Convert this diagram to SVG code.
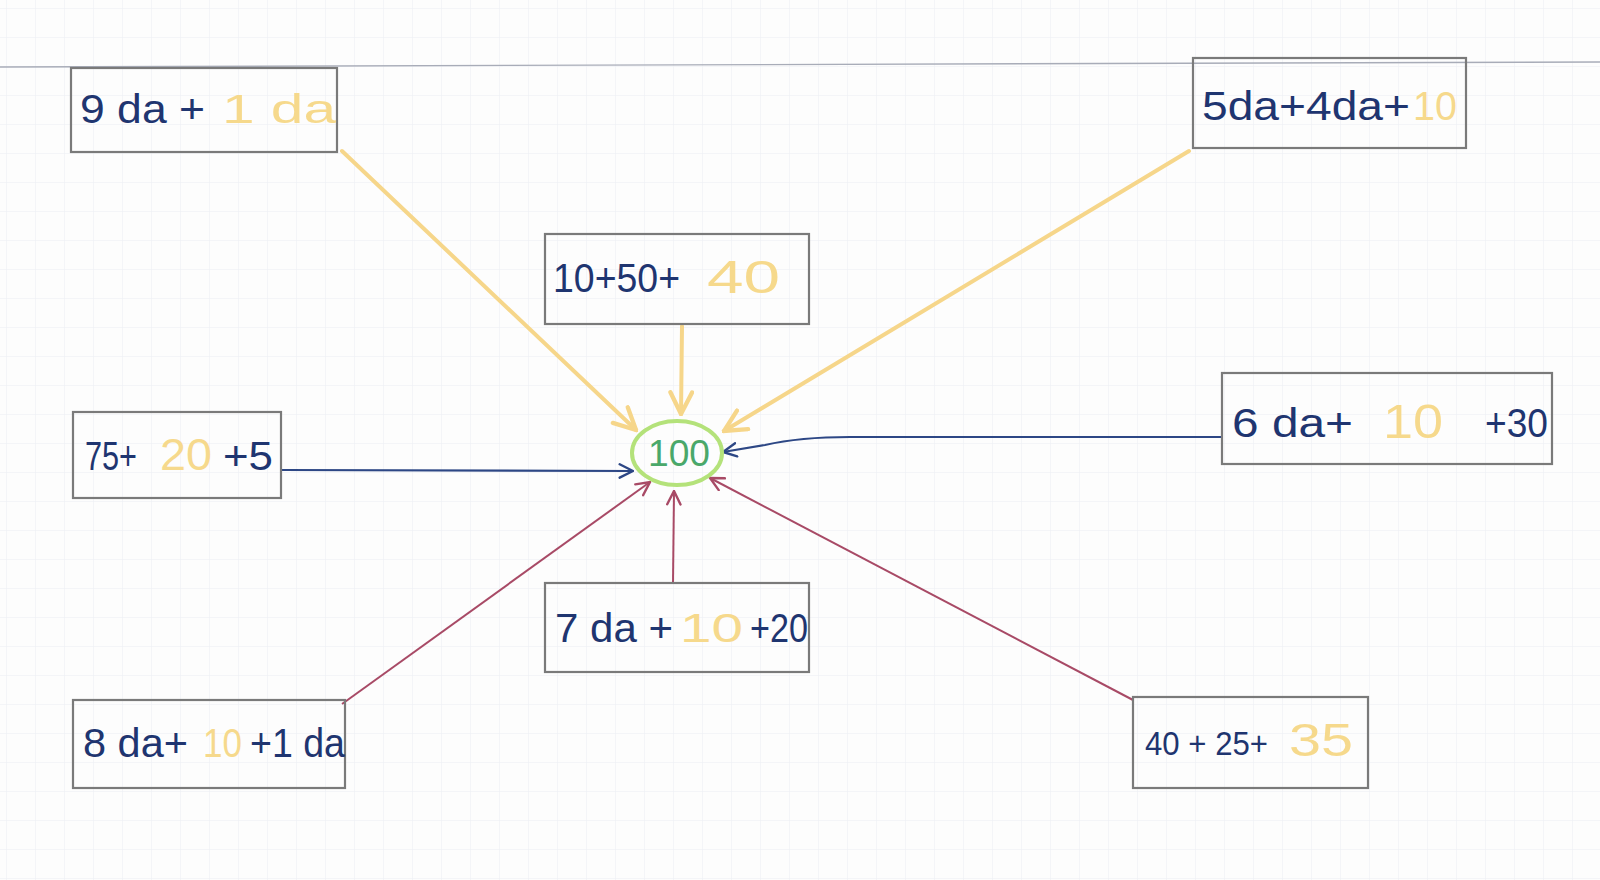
<svg xmlns="http://www.w3.org/2000/svg" width="1600" height="880" viewBox="0 0 1600 880">
<style>
.box{fill:none;stroke:#7a7a7a;stroke-width:2.2}
.t{font-family:"Liberation Sans",Arial,sans-serif;font-size:40px}
.b{fill:#1f3570}
.y{fill:#f6d98c}
.g{fill:#4aa86a}
.cy{fill:none;stroke:#f6d68a;stroke-width:4;stroke-linecap:round}
.cb{fill:none;stroke:#2d4785;stroke-width:2.2}
.cr{fill:none;stroke:#a84a66;stroke-width:2}
</style>
<defs>
<pattern id="grid" width="29" height="29" patternUnits="userSpaceOnUse" x="6" y="8">
<path d="M29,0 L0,0 0,29" fill="none" stroke="#eceef3" stroke-width="1"/>
</pattern>
<marker id="ay" viewBox="0 0 12 12" refX="11" refY="6" markerWidth="26" markerHeight="26" markerUnits="userSpaceOnUse" orient="auto">
<path d="M1,1 L11,6 L1,11" fill="none" stroke="#f6d68a" stroke-width="2" stroke-linecap="round"/>
</marker>
<marker id="ab" viewBox="0 0 12 12" refX="11" refY="6" markerWidth="16" markerHeight="16" markerUnits="userSpaceOnUse" orient="auto">
<path d="M1,1 L11,6 L1,11" fill="none" stroke="#2d4785" stroke-width="1.8" stroke-linecap="round"/>
</marker>
<marker id="ar" viewBox="0 0 12 12" refX="11" refY="6" markerWidth="16" markerHeight="16" markerUnits="userSpaceOnUse" orient="auto">
<path d="M1,1 L11,6 L1,11" fill="none" stroke="#a84a66" stroke-width="1.8" stroke-linecap="round"/>
</marker>
</defs>
<rect width="1600" height="880" fill="#fdfdfd"/>
<rect width="1600" height="880" fill="url(#grid)"/>
<path d="M0,67 L1600,62" stroke="#a8acb8" stroke-width="1.4" fill="none"/>

<g id="connectors">
<path class="cy" d="M342,151 L636,430" marker-end="url(#ay)"/>
<path class="cy" d="M682,326 L681,414" marker-end="url(#ay)"/>
<path class="cy" d="M1189,151 L724,431" marker-end="url(#ay)"/>
<path class="cb" d="M282,470 L633,471" marker-end="url(#ab)"/>
<path class="cb" d="M1222,437 L850,437 Q800,437 765,445 L723,452" marker-end="url(#ab)"/>
<path class="cr" d="M673,584 L674,491" marker-end="url(#ar)"/>
<path class="cr" d="M342,704 L650,482" marker-end="url(#ar)"/>
<path class="cr" d="M1133,700 L710,478" marker-end="url(#ar)"/>
</g>

<g id="center">
<ellipse cx="677" cy="453" rx="45" ry="32" fill="none" stroke="#b4e27a" stroke-width="4"/>
<text class="t g" x="648" y="466" style="font-size:36px" textLength="62" lengthAdjust="spacingAndGlyphs">100</text>
</g>

<g id="n1">
<rect class="box" x="71" y="68" width="266" height="84"/>
<text class="t b" x="80" y="123" textLength="125" lengthAdjust="spacingAndGlyphs">9 da +</text>
<text class="t y" x="222" y="123" textLength="114" lengthAdjust="spacingAndGlyphs">1 da</text>
</g>

<g id="n2">
<rect class="box" x="1193" y="58" width="273" height="90"/>
<text class="t b" x="1202" y="120" textLength="208" lengthAdjust="spacingAndGlyphs">5da+4da+</text>
<text class="t y" x="1413" y="120" textLength="44" lengthAdjust="spacingAndGlyphs">10</text>
</g>

<g id="n3">
<rect class="box" x="545" y="234" width="264" height="90"/>
<text class="t b" x="553" y="292" textLength="127" lengthAdjust="spacingAndGlyphs">10+50+</text>
<text class="t y" x="707" y="293" style="font-size:46px" textLength="73" lengthAdjust="spacingAndGlyphs">40</text>
</g>

<g id="n4">
<rect class="box" x="73" y="412" width="208" height="86"/>
<text class="t b" x="85" y="470" textLength="52" lengthAdjust="spacingAndGlyphs">75+</text>
<text class="t y" x="160" y="470" style="font-size:44px" textLength="52" lengthAdjust="spacingAndGlyphs">20</text>
<text class="t b" x="223" y="470" textLength="50" lengthAdjust="spacingAndGlyphs">+5</text>
</g>

<g id="n5">
<rect class="box" x="1222" y="373" width="330" height="91"/>
<text class="t b" x="1232" y="437" textLength="121" lengthAdjust="spacingAndGlyphs">6 da+</text>
<text class="t y" x="1383" y="438" style="font-size:48px" textLength="60" lengthAdjust="spacingAndGlyphs">10</text>
<text class="t b" x="1485" y="437" textLength="63" lengthAdjust="spacingAndGlyphs">+30</text>
</g>

<g id="n6">
<rect class="box" x="545" y="583" width="264" height="89"/>
<text class="t b" x="555" y="642" textLength="118" lengthAdjust="spacingAndGlyphs">7 da +</text>
<text class="t y" x="680" y="642" textLength="63" lengthAdjust="spacingAndGlyphs">10</text>
<text class="t b" x="750" y="642" textLength="58" lengthAdjust="spacingAndGlyphs">+20</text>
</g>

<g id="n7">
<rect class="box" x="73" y="700" width="272" height="88"/>
<text class="t b" x="83" y="757" textLength="105" lengthAdjust="spacingAndGlyphs">8 da+</text>
<text class="t y" x="203" y="757" textLength="39" lengthAdjust="spacingAndGlyphs">10</text>
<text class="t b" x="250" y="757" textLength="95" lengthAdjust="spacingAndGlyphs">+1 da</text>
</g>

<g id="n8">
<rect class="box" x="1133" y="697" width="235" height="91"/>
<text class="t b" x="1145" y="755" style="font-size:34px" textLength="123" lengthAdjust="spacingAndGlyphs">40 + 25+</text>
<text class="t y" x="1289" y="756" style="font-size:46px" textLength="64" lengthAdjust="spacingAndGlyphs">35</text>
</g>
</svg>
